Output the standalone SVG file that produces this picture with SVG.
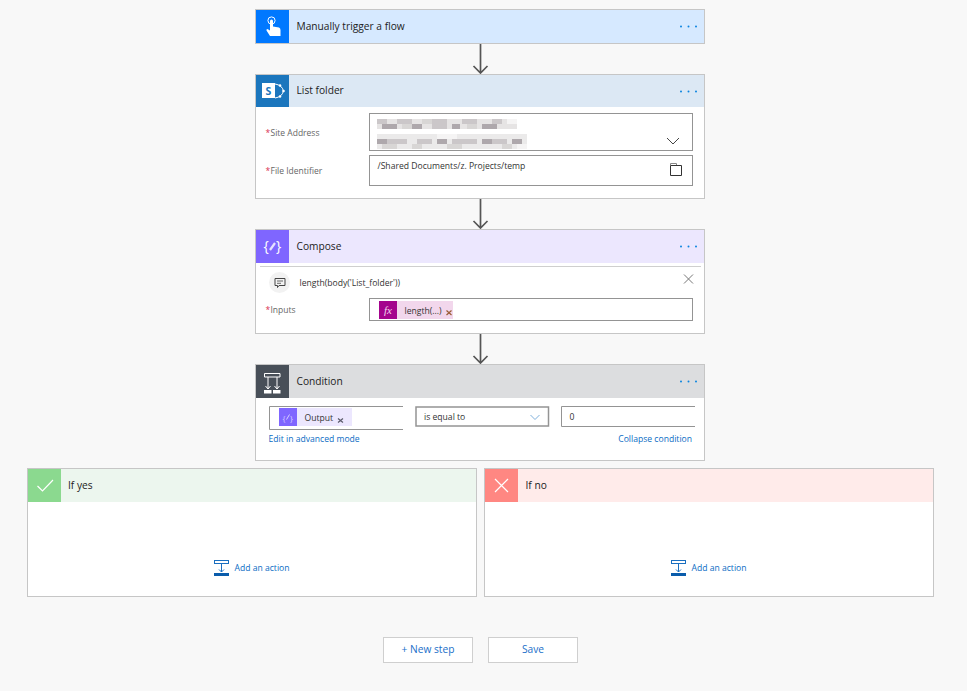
<svg xmlns="http://www.w3.org/2000/svg" width="967" height="691" viewBox="0 0 967 691">
<style>
text{font-family:"Open Sans","Noto Sans","Liberation Sans",sans-serif;font-size:8.6px;fill:#333}
.title{font-size:10.2px;fill:#222}
.lab{fill:#666;font-size:8.5px}
.req{fill:#d9304f;font-size:8.5px}
.link{fill:#0a6cc4;font-size:8.6px}
.card{fill:#fff;stroke:#c6c6c6;stroke-width:1}
.box{fill:#fff;stroke:#949494;stroke-width:1}
.dot{fill:#0a84e0}
.ic{fill:none;stroke:#fff;stroke-width:1.2}
.conn{fill:none;stroke:#555;stroke-width:1.7}
.btn{fill:#fff;stroke:#cfcfcf;stroke-width:1}
.btnt{fill:#1a6fc9;font-size:10.2px;text-anchor:middle}
</style>
<defs>
<g id="dots"><circle cx="0" cy="0" r="1" class="dot"/><circle cx="7.5" cy="0" r="1" class="dot"/><circle cx="15" cy="0" r="1" class="dot"/></g>
<g id="addicon"><rect x="0.5" y="0.5" width="14" height="3" fill="none" stroke="#1a6fc0"/><path d="M7.500 4V12M5 9.500L7.500 12L10 9.500" fill="none" stroke="#1a6fc0"/><rect x="0" y="13" width="15" height="3" fill="#0a5cab"/></g>
</defs>
<rect width="967" height="691" fill="#f8f8f8"/>

<g id="connectors">
<path class="conn" d="M480.500 44V72.500M473.500 66L480.500 73L487.500 66"/>
<path class="conn" d="M480.500 199V227.500M473.500 221L480.500 228L487.500 221"/>
<path class="conn" d="M480.500 334V362.500M473.500 356L480.500 363L487.500 356"/>
</g>

<g id="node-trigger">
<rect class="card" x="255.500" y="9.500" width="449" height="34" style="fill:#d6e9ff"/>
<rect x="256" y="10" width="33" height="33" fill="#0078ff"/>
<path d="M270 36L266.500 30.500Q266 29 267.500 29L270 30.500V21Q270 19.500 271.500 19.500T273 21V26.500L279 27.500Q280.500 28 280.500 30V36Z" fill="#fff"/>
<circle cx="271.500" cy="20.500" r="3.600" fill="none" stroke="#fff" stroke-width="1"/>
<text class="title" x="296.500" y="30">Manually trigger a flow</text>
<use href="#dots" x="681" y="26.500"/>
</g>

<g id="node-list-folder">
<rect class="card" x="255.500" y="74.500" width="449" height="124"/>
<rect x="256" y="75" width="448" height="32" fill="#dce8f4"/>
<rect x="256" y="75" width="33" height="32" fill="#1b76bd"/>
<rect x="262" y="83" width="13" height="15" fill="#fff"/>
<path d="M275 84Q282 85 283.500 91Q282 97 275 98" fill="none" stroke="#fff" stroke-width="1"/>
<circle cx="280" cy="85.500" r="1.300" fill="#fff"/><circle cx="283.500" cy="91" r="1.300" fill="#fff"/><circle cx="280" cy="96.500" r="1.300" fill="#fff"/>
<text x="265.500" y="95" style="font-size:10.500px;font-weight:700;fill:#1b76bd">S</text>
<text class="title" x="296.500" y="94">List folder</text>
<use href="#dots" x="681" y="91.500"/>
<text class="req" x="265.500" y="136">*</text><text class="lab" x="270.500" y="136">Site Address</text>
<text class="req" x="265.500" y="174">*</text><text class="lab" x="270.500" y="174">File Identifier</text>
<rect class="box" x="369.500" y="113.500" width="323" height="37"/>
<rect class="box" x="369.500" y="155.500" width="323" height="30"/>
<g id="site-blur">
<rect x="377" y="119" width="140" height="10" fill="#e6e4e4"/>
<rect x="377" y="134" width="150" height="15" fill="#ebeaea"/>
<path d="M377 119h10v5h-10zM397 119h15v5h-15zM432 119h15v10h-15zM462 119h15v5h-15zM492 119h10v5h-10zM387 139h20v5h-20zM417 139h15v5h-15zM452 139h25v5h-25zM492 139h15v5h-15z" fill="#cbc7c9"/>
<path d="M382 124h15v5h-15zM412 124h10v5h-10zM452 124h8v5h-8zM482 124h15v5h-15zM377 139h10v5h-10zM437 139h10v5h-10zM482 139h10v5h-10zM512 139h10v5h-10z" fill="#aea8ac"/>
<path d="M402 124h10v5h-10zM422 119h10v5h-10zM467 124h10v5h-10zM382 144h15v5h-15zM412 144h10v5h-10zM447 144h15v5h-15zM502 144h10v5h-10z" fill="#d8d6d5"/>
<path d="M437 134h20v5h-20zM392 129h0zM507 119h10v5h-10zM517 144h10v5h-10z" fill="#f5f4f4"/>
</g>
<path d="M667 138L673 144L679 138" fill="none" stroke="#444" stroke-width="1"/>
<text x="377.500" y="169">/Shared Documents/z. Projects/temp</text>
<path d="M670.500 175.500H681.500V165.500H670.500Z" fill="none" stroke="#333" stroke-width="1"/>
<path d="M670.500 165V163.500H676.500V165" fill="none" stroke="#888" stroke-width="1"/>
</g>

<g id="node-compose">
<rect class="card" x="255.500" y="229.500" width="449" height="104"/>
<rect x="256" y="230" width="448" height="33" fill="#ece7fe"/>
<rect x="256" y="230" width="33" height="33" fill="#7f66ff"/>
<text x="263.500" y="251" style="font-size:14px;fill:#fff">{</text>
<text x="276" y="251" style="font-size:14px;fill:#fff">}</text>
<path d="M270 250L275 243" stroke="#e6e0ff" stroke-width="2.200" fill="none"/>
<text class="title" x="296.500" y="250">Compose</text>
<use href="#dots" x="681" y="246.500"/>
<path d="M260 266.500H701" stroke="#cfcfcf" stroke-width="1"/>
<circle cx="279.500" cy="282.500" r="10.500" fill="#f2f2f2"/>
<path d="M275 278.500H285V285.500H279L277.500 287.500V285.500H275Z" fill="none" stroke="#444" stroke-width="1"/>
<path d="M277 281H283M277 283.300H281" stroke="#444" stroke-width="0.800"/>
<text x="299.500" y="286">length(body('List_folder'))</text>
<path d="M684 274.500L693 283.500M693 274.500L684 283.500" stroke="#777" stroke-width="1" fill="none"/>
<text class="req" x="265.500" y="313">*</text><text class="lab" x="270.500" y="313">Inputs</text>
<rect class="box" x="369.500" y="298.500" width="323" height="22"/>
<rect x="397" y="301" width="56" height="18" fill="#f2d7ec"/>
<rect x="379" y="301" width="18" height="18" fill="#a4048d"/>
<text x="384" y="314" style="font-family:'Liberation Serif',serif;font-style:italic;font-size:11px;fill:#f3d6ec">fx</text>
<text x="404.500" y="314">length(...)</text>
<path d="M446.500 310.500L451.500 315M451.500 310.500L446.500 315" stroke="#9a5a33" stroke-width="1.200" fill="none"/>
</g>

<g id="node-condition">
<rect class="card" x="255.500" y="364.500" width="449" height="96"/>
<rect x="256" y="365" width="448" height="33" fill="#dcdddf"/>
<rect x="256" y="365" width="33" height="33" fill="#484f58"/>
<path d="M264.500 373.500H280V377H264.500ZM268 377V389M277 377V389M265.500 386L268 389L270.500 386M274.500 386L277 389L279.500 386" fill="none" stroke="#fff" stroke-width="1"/>
<rect x="264" y="390" width="7.500" height="3.500" fill="#fff"/><rect x="273" y="390" width="7.500" height="3.500" fill="#fff"/>
<text class="title" x="296.500" y="385">Condition</text>
<use href="#dots" x="681" y="381.500"/>
<path d="M403 406.500H269.500V429.500H403" fill="#fff" stroke="#949494"/>
<rect x="297" y="408" width="55" height="18" fill="#ece7fe"/>
<rect x="279" y="408" width="18" height="18" fill="#7f66ff"/>
<text x="282.500" y="420.500" style="font-size:8px;fill:#d8d0ff">{</text><text x="290" y="420.500" style="font-size:8px;fill:#d8d0ff">}</text>
<path d="M286.500 419.500L289.500 414.500" stroke="#d8d0ff" fill="none"/>
<text x="304.500" y="421">Output</text>
<path d="M338 418.500L343 422.500M343 418.500L338 422.500" stroke="#5a5a6a" stroke-width="1.200" fill="none"/>
<rect x="416" y="407" width="132.500" height="19" fill="#fff" stroke="#949494" stroke-width="1.500"/>
<text x="424" y="420">is equal to</text>
<path d="M530.500 415L535 419.500L539.500 415" fill="none" stroke="#7fb0dc" stroke-width="1"/>
<path d="M695 406.500H561.500V426.500H695" fill="#fff" stroke="#949494"/>
<text x="569.500" y="420">0</text>
<text class="link" x="268.500" y="442">Edit in advanced mode</text>
<text class="link" x="692" y="442" text-anchor="end">Collapse condition</text>
</g>

<g id="node-if-yes">
<rect class="card" x="27.500" y="468.500" width="449" height="128"/>
<rect x="28" y="469" width="448" height="33" fill="#ecf6ee"/>
<rect x="28" y="469" width="33" height="33" fill="#8bd98f"/>
<path d="M37.500 486L42.500 491L53 480" class="ic"/>
<text class="title" x="68" y="489">If yes</text>
<use href="#addicon" x="214" y="560"/>
<text class="link" x="234.500" y="571">Add an action</text>
</g>

<g id="node-if-no">
<rect class="card" x="484.500" y="468.500" width="449" height="128"/>
<rect x="485" y="469" width="448" height="33" fill="#ffebea"/>
<rect x="485" y="469" width="33" height="33" fill="#ff8782"/>
<path d="M495 479L508 492M508 479L495 492" class="ic"/>
<text class="title" x="525.500" y="489">If no</text>
<use href="#addicon" x="671" y="560"/>
<text class="link" x="691.500" y="571">Add an action</text>
</g>

<g id="btn-new-step">
<rect class="btn" x="383.500" y="637.500" width="89" height="25"/>
<text class="btnt" x="428" y="652.500">+ New step</text>
</g>
<g id="btn-save">
<rect class="btn" x="488.500" y="637.500" width="89" height="25"/>
<text class="btnt" x="533" y="652.500">Save</text>
</g>
</svg>
